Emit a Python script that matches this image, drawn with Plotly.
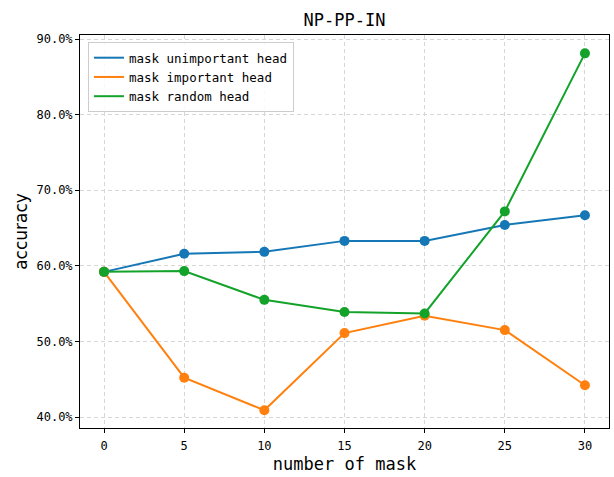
import plotly.graph_objects as go

num_mask = [0, 5, 10, 15, 20, 25, 30]
unimportant = [59.2, 61.6, 61.85, 63.3, 63.3, 65.4, 66.7]
important = [59.2, 45.2, 40.9, 51.1, 53.4, 51.5, 44.2]
random_head = [59.2, 59.3, 55.5, 53.9, 53.7, 67.2, 88.1]
y_ticks = [40, 50, 60, 70, 80, 90]
y_tick_labels = ["40.0%", "50.0%", "60.0%", "70.0%", "80.0%", "90.0%"]

mono = "DejaVu Sans Mono"
fig = go.Figure()
series = [
    ("mask unimportant head", unimportant, "#1677b6"),
    ("mask important head", important, "#ff800e"),
    ("mask random head", random_head, "#14a32a"),
]
for name, vals, col in series:
    fig.add_trace(go.Scatter(x=num_mask, y=vals, name=name, mode="lines+markers",
                             line=dict(color=col, width=2),
                             marker=dict(color=col, size=10), showlegend=False))
for name, vals, col in series:
    fig.add_trace(go.Scatter(x=[None], y=[None], name=name, mode="lines",
                             line=dict(color=col, width=2), showlegend=True))

axis_common = dict(showline=True, linecolor="black", linewidth=1, mirror=True,
                   ticks="outside", ticklen=4, tickcolor="black",
                   showgrid=True, gridcolor="#d6d6d6", griddash="4px,3px", gridwidth=1,
                   zeroline=False, tickfont=dict(family=mono, size=12, color="black"))

fig.update_layout(
    width=614, height=477,
    margin=dict(l=80, r=5, t=35, b=49),
    paper_bgcolor="white", plot_bgcolor="white",
    title=dict(text="NP-PP-IN", x=(80 + 609) / 2 / 614, xanchor="center",
               y=1 - 20 / 477, yanchor="middle",
               font=dict(family=mono, size=17, color="black")),
    xaxis=dict(range=[-1.5, 31.5], tickvals=num_mask, ticklabelstandoff=3,
               title=dict(text="number of mask", font=dict(family=mono, size=17, color="black"), standoff=5),
               **axis_common),
    yaxis=dict(range=[38.55, 90.53], tickvals=y_ticks, ticktext=y_tick_labels,
               title=dict(text="accuracy", font=dict(family="DejaVu Sans", size=17, color="black"), standoff=4),
               **axis_common),
    legend=dict(x=0.015, y=0.982, xanchor="left", yanchor="top",
                bgcolor="rgba(255,255,255,0.85)", bordercolor="#cccccc", borderwidth=1,
                font=dict(family=mono, size=12.5, color="black"), itemwidth=30),
    showlegend=True,
)
fig.write_html("out.html")
